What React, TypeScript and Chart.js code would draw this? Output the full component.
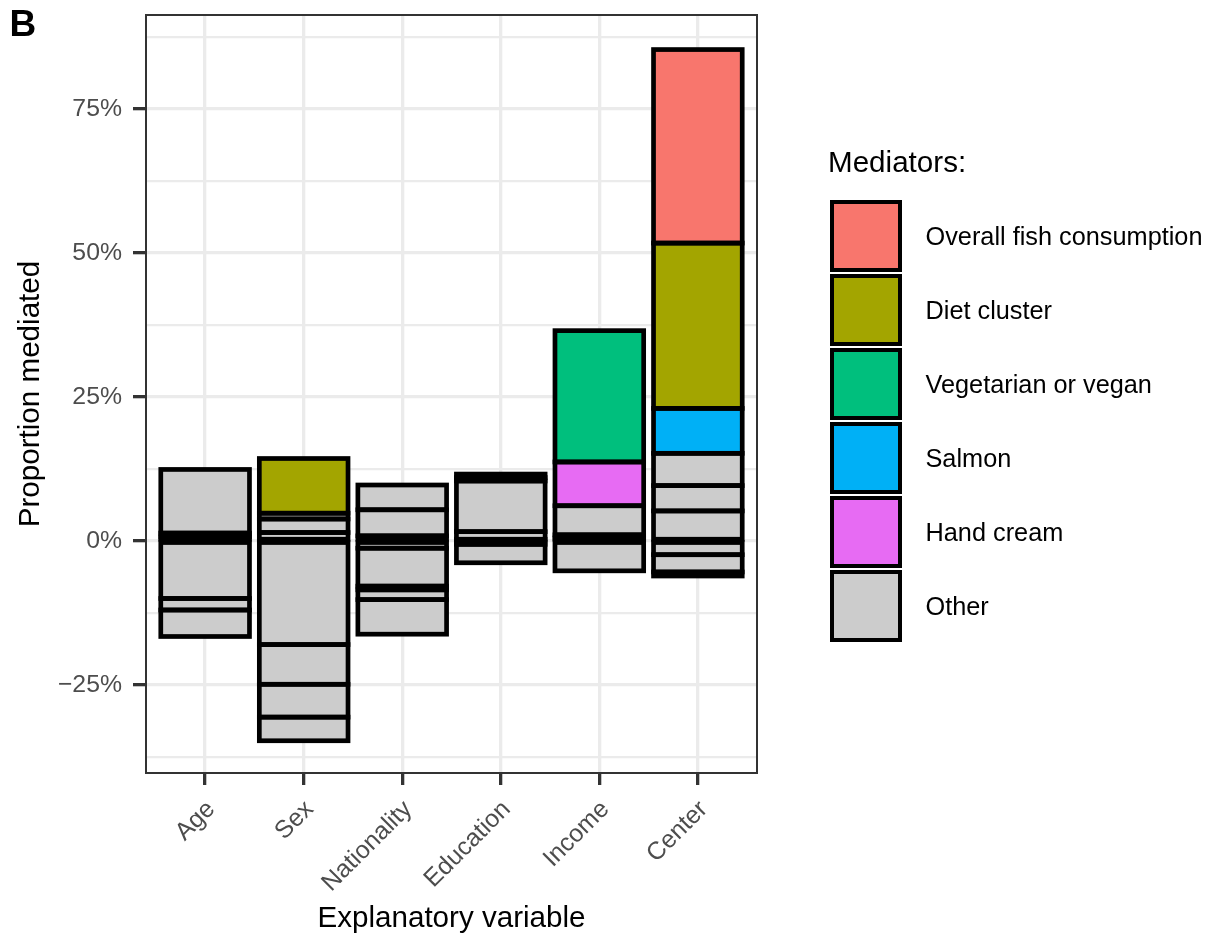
import React, { useEffect, useRef } from 'react';
import { Chart, registerables } from 'chart.js';

Chart.register(...registerables);

// ---- data (percent) ----
const categories = ['Age', 'Sex', 'Nationality', 'Education', 'Income', 'Center'];

// "Other" mediators, positive pieces stacked upward from 0
const otherPos1 = [0.65, 1.45, 0.87, 0.26, 0.5, 5.2];
const otherPos2 = [0.7, 2.35, 4.53, 1.34, 0.55, 4.4];
const otherPos3 = [11.05, 1.0, 4.3, 8.8, 5.05, 5.6];
const otherPos4 = [null, null, null, 0.6, null, null];
const otherPos5 = [null, null, null, 0.6, null, null];
// "Other" mediators, negative pieces stacked downward from 0
const otherNeg1 = [-10.0, -18.0, -1.27, -0.6, -5.2, -2.4];
const otherNeg2 = [-2.0, -6.9, -6.59, -3.2, null, -3.0];
const otherNeg3 = [-4.6, -5.7, -0.64, null, null, -0.7];
const otherNeg4 = [null, -4.1, -1.7, null, null, null];
const otherNeg5 = [null, null, -6.0, null, null, null];
// named mediators
const handCream = [null, null, null, null, 7.6, null];
const salmon = [null, null, null, null, null, 7.8];
const vegetarianOrVegan = [null, null, null, null, 22.8, null];
const dietCluster = [null, 9.5, null, null, null, 28.7];
const overallFish = [null, null, null, null, null, 33.6];

const yMajorTicks = [-25, 0, 25, 50, 75];
const yMinorTicks = [-37.5, -12.5, 12.5, 37.5, 62.5, 87.5];

const legendLabels = ['Overall fish consumption', 'Diet cluster', 'Vegetarian or vegan', 'Salmon', 'Hand cream', 'Other'];
const legendColors = ['#F8766D', '#A3A500', '#00BF7D', '#00B0F6', '#E76BF3', '#CCCCCC'];

const OTHER = '#CCCCCC';
const FONT = "'Liberation Sans', Arial, Helvetica, sans-serif";

const series: { label: string; values: (number | null)[]; color: string }[] = [
  { label: 'Other', values: otherPos1, color: OTHER },
  { label: 'Other', values: otherPos2, color: OTHER },
  { label: 'Other', values: otherPos3, color: OTHER },
  { label: 'Other', values: otherPos4, color: OTHER },
  { label: 'Other', values: otherPos5, color: OTHER },
  { label: 'Other', values: otherNeg1, color: OTHER },
  { label: 'Other', values: otherNeg2, color: OTHER },
  { label: 'Other', values: otherNeg3, color: OTHER },
  { label: 'Other', values: otherNeg4, color: OTHER },
  { label: 'Other', values: otherNeg5, color: OTHER },
  { label: 'Hand cream', values: handCream, color: '#E76BF3' },
  { label: 'Salmon', values: salmon, color: '#00B0F6' },
  { label: 'Vegetarian or vegan', values: vegetarianOrVegan, color: '#00BF7D' },
  { label: 'Diet cluster', values: dietCluster, color: '#A3A500' },
  { label: 'Overall fish consumption', values: overallFish, color: '#F8766D' },
];

const isMajor = (v: number) => yMajorTicks.includes(v);

const outlinePlugin = {
  id: 'barOutline',
  afterDatasetsDraw(chart: any) {
    const ctx = chart.ctx;
    ctx.save();
    ctx.strokeStyle = '#000000';
    ctx.lineWidth = 4.7;
    chart.data.datasets.forEach((_: any, di: number) => {
      const meta = chart.getDatasetMeta(di);
      meta.data.forEach((el: any) => {
        const { x, y, base, width } = el.getProps(['x', 'y', 'base', 'width'], true);
        ctx.strokeRect(x - width / 2, Math.min(y, base), width, Math.abs(base - y));
      });
    });
    const a = chart.chartArea;
    ctx.strokeStyle = '#333333';
    ctx.lineWidth = 2;
    ctx.strokeRect(a.left, a.top, a.right - a.left, a.bottom - a.top);
    ctx.restore();
  },
};

export default function App() {
  const ref = useRef<HTMLCanvasElement | null>(null);

  useEffect(() => {
    document.body.style.margin = '0';
    const canvas = ref.current;
    if (!canvas) return;
    Chart.defaults.font.family = FONT;

    const chart = new Chart(canvas, {
      type: 'bar',
      data: {
        datasets: series.map((s) => ({
          label: s.label,
          data: s.values.flatMap((v, i) => (v === null ? [] : [{ x: i, y: v }])),
          backgroundColor: s.color,
          borderWidth: 0,
          inflateAmount: 0,
          categoryPercentage: 1,
          barPercentage: 0.9,
        })),
      },
      options: {
        responsive: false,
        animation: false,
        layout: { padding: { top: 15, right: 452, left: 0, bottom: 0 } },
        plugins: { legend: { display: false }, tooltip: { enabled: false } },
        scales: {
          x: {
            type: 'linear',
            min: -0.6,
            max: 5.6,
            stacked: true,
            offset: false,
            afterBuildTicks: (s: any) => {
              s.ticks = categories.map((_, i) => ({ value: i }));
            },
            afterFit: (s: any) => {
              s.height = 164;
              s.paddingLeft = 0;
              s.paddingRight = 0;
            },
            grid: {
              offset: false,
              color: '#EBEBEB',
              lineWidth: 3.3,
              tickColor: '#333333',
              tickLength: 12,
              tickWidth: 3.3,
            },
            border: { display: false },
            ticks: {
              callback: (v: any) => categories[v] ?? '',
              minRotation: 45,
              maxRotation: 45,
              autoSkip: false,
              color: '#4D4D4D',
              font: { size: 24.8 },
              padding: 10,
              labelOffset: 6,
            },
            title: {
              display: true,
              text: 'Explanatory variable',
              color: '#000000',
              font: { size: 29.6 },
              padding: { top: 0, bottom: 0.4 },
            },
          },
          y: {
            type: 'linear',
            min: -40.3,
            max: 91.3,
            stacked: true,
            afterBuildTicks: (s: any) => {
              s.ticks = [...yMajorTicks, ...yMinorTicks].sort((a, b) => a - b).map((v) => ({ value: v }));
            },
            afterFit: (s: any) => {
              s.width = 146;
              s.paddingTop = 0;
              s.paddingBottom = 0;
            },
            grid: {
              color: '#EBEBEB',
              lineWidth: (c: any) => (isMajor(c.tick.value) ? 3.3 : 2.2),
              tickColor: (c: any) => (isMajor(c.tick.value) ? '#333333' : 'rgba(0,0,0,0)'),
              tickLength: 13,
              tickWidth: 3.3,
            },
            border: { display: false },
            ticks: {
              callback: (v: any) => (isMajor(v) ? `${v < 0 ? '\u2212' + Math.abs(v) : v}%` : ''),
              color: '#4D4D4D',
              font: { size: 24.8 },
              padding: 11,
            },
            title: {
              display: true,
              text: 'Proportion mediated',
              color: '#000000',
              font: { size: 29.6 },
              padding: { top: 13.3, bottom: 0 },
            },
          },
        },
      } as any,
      plugins: [outlinePlugin],
    });
    return () => chart.destroy();
  }, []);

  const keyTop0 = 200;
  const keyPitch = 74;
  const keySize = 72;

  return (
    <div style={{ position: 'relative', width: 1209, height: 937, fontFamily: FONT, overflow: 'hidden' }}>
      <canvas ref={ref} width={1209} height={937} style={{ display: 'block', width: 1209, height: 937 }} />
      <div style={{ position: 'absolute', left: 9.5, top: 5.4, fontSize: 37, fontWeight: 'bold', lineHeight: 1, color: '#000' }}>B</div>
      <div style={{ position: 'absolute', left: 828, top: 147.3, fontSize: 29.6, lineHeight: 1, color: '#000', whiteSpace: 'nowrap' }}>Mediators:</div>
      {legendLabels.map((lab, i) => {
        const top = keyTop0 + i * keyPitch;
        const center = top + keySize / 2;
        return (
          <React.Fragment key={lab}>
            <div
              style={{
                position: 'absolute',
                left: 829.5,
                top,
                width: keySize,
                height: keySize,
                boxSizing: 'border-box',
                border: '4.7px solid #000',
                background: legendColors[i],
              }}
            />
            <div
              style={{
                position: 'absolute',
                left: 925.5,
                top: center + 9.5 - 0.8465 * 25.3,
                fontSize: 25.3,
                lineHeight: 1,
                color: '#000',
                whiteSpace: 'nowrap',
              }}
            >
              {lab}
            </div>
          </React.Fragment>
        );
      })}
    </div>
  );
}
